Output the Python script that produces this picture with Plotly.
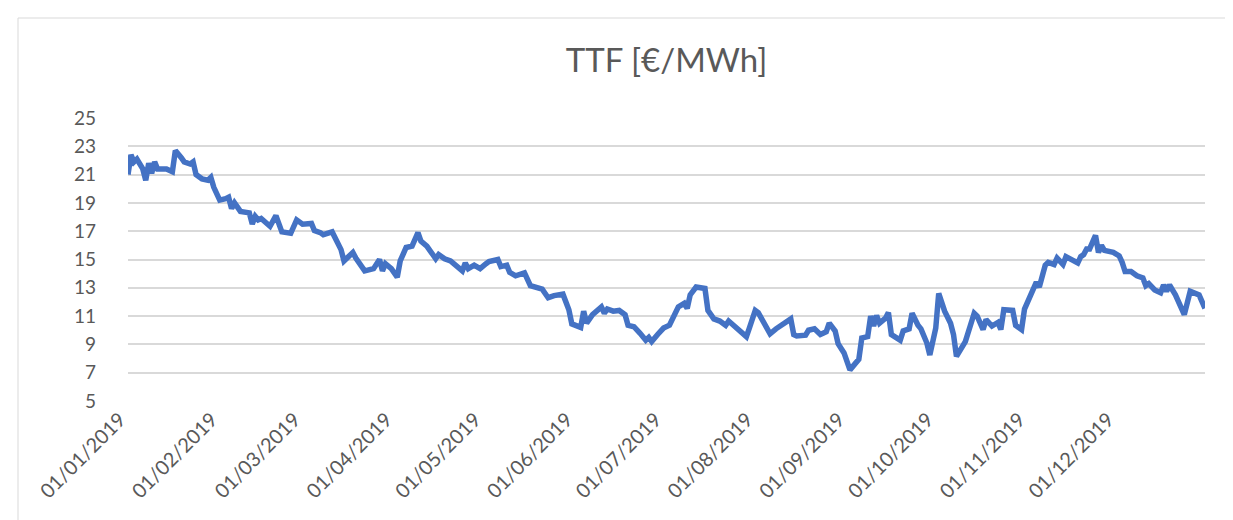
import plotly.graph_objects as go

dates = [
    "2019-01-01", "2019-01-02", "2019-01-03", "2019-01-04", "2019-01-06", "2019-01-07", "2019-01-08",
    "2019-01-09", "2019-01-10", "2019-01-11", "2019-01-13", "2019-01-14", "2019-01-16", "2019-01-17",
    "2019-01-19", "2019-01-20", "2019-01-22", "2019-01-23", "2019-01-24", "2019-01-26", "2019-01-28",
    "2019-01-29", "2019-01-30", "2019-02-01", "2019-02-03", "2019-02-04", "2019-02-05", "2019-02-06",
    "2019-02-08", "2019-02-10", "2019-02-11", "2019-02-12", "2019-02-13", "2019-02-14", "2019-02-15",
    "2019-02-18", "2019-02-20", "2019-02-22", "2019-02-25", "2019-02-27", "2019-03-01", "2019-03-04",
    "2019-03-05", "2019-03-07", "2019-03-08", "2019-03-11", "2019-03-12", "2019-03-14", "2019-03-15",
    "2019-03-16", "2019-03-18", "2019-03-19", "2019-03-21", "2019-03-22", "2019-03-25", "2019-03-27",
    "2019-03-28", "2019-03-29", "2019-03-31", "2019-04-02", "2019-04-03", "2019-04-05", "2019-04-07",
    "2019-04-09", "2019-04-10", "2019-04-12", "2019-04-14", "2019-04-15", "2019-04-16", "2019-04-18",
    "2019-04-20", "2019-04-22", "2019-04-24", "2019-04-25", "2019-04-26", "2019-04-28", "2019-04-30",
    "2019-05-02", "2019-05-03", "2019-05-06", "2019-05-07", "2019-05-09", "2019-05-10", "2019-05-12",
    "2019-05-15", "2019-05-17", "2019-05-19", "2019-05-21", "2019-05-22", "2019-05-23", "2019-05-25",
    "2019-05-28", "2019-05-30", "2019-05-31", "2019-06-03", "2019-06-04", "2019-06-05", "2019-06-07",
    "2019-06-10", "2019-06-11", "2019-06-12", "2019-06-14", "2019-06-16", "2019-06-18", "2019-06-19",
    "2019-06-21", "2019-06-23", "2019-06-25", "2019-06-26", "2019-06-27", "2019-06-29", "2019-07-01",
    "2019-07-03", "2019-07-05", "2019-07-06", "2019-07-08", "2019-07-09", "2019-07-10", "2019-07-12",
    "2019-07-15", "2019-07-16", "2019-07-17", "2019-07-18", "2019-07-20", "2019-07-22", "2019-07-23",
    "2019-07-25", "2019-07-27", "2019-07-29", "2019-07-30", "2019-08-01", "2019-08-02", "2019-08-04",
    "2019-08-06", "2019-08-08", "2019-08-10", "2019-08-13", "2019-08-14", "2019-08-15", "2019-08-18",
    "2019-08-19", "2019-08-21", "2019-08-23", "2019-08-25", "2019-08-26", "2019-08-28", "2019-08-29",
    "2019-08-31", "2019-09-02", "2019-09-05", "2019-09-06", "2019-09-08", "2019-09-09", "2019-09-10",
    "2019-09-11", "2019-09-12", "2019-09-14", "2019-09-15", "2019-09-16", "2019-09-19", "2019-09-20",
    "2019-09-22", "2019-09-23", "2019-09-25", "2019-09-26", "2019-09-28", "2019-09-29", "2019-10-01",
    "2019-10-02", "2019-10-04", "2019-10-06", "2019-10-07", "2019-10-08", "2019-10-11", "2019-10-14",
    "2019-10-15", "2019-10-17", "2019-10-18", "2019-10-20", "2019-10-22", "2019-10-23", "2019-10-24",
    "2019-10-27", "2019-10-28", "2019-10-30", "2019-10-31", "2019-11-03", "2019-11-04", "2019-11-05",
    "2019-11-07", "2019-11-08", "2019-11-10", "2019-11-11", "2019-11-13", "2019-11-14", "2019-11-16",
    "2019-11-18", "2019-11-19", "2019-11-20", "2019-11-21", "2019-11-22", "2019-11-24", "2019-11-25",
    "2019-11-26", "2019-11-27", "2019-11-30", "2019-12-02", "2019-12-03", "2019-12-04", "2019-12-06",
    "2019-12-08", "2019-12-10", "2019-12-11", "2019-12-12", "2019-12-14", "2019-12-16", "2019-12-17",
    "2019-12-18", "2019-12-19", "2019-12-21", "2019-12-23", "2019-12-24", "2019-12-26", "2019-12-29",
    "2019-12-31",
]

ttf_prices = [
    21.0, 22.4, 21.9, 22.1, 21.4, 20.6, 21.8,
    21.1, 21.9, 21.4, 21.4, 21.4, 21.2, 22.7,
    22.2, 21.9, 21.75, 21.9, 21.0, 20.7, 20.6,
    20.8, 20.1, 19.2, 19.3, 19.4, 18.6, 19.0,
    18.4, 18.3, 18.3, 17.5, 18.05, 17.8, 17.9,
    17.35, 18.1, 16.95, 16.85, 17.8, 17.5, 17.55,
    17.05, 16.9, 16.75, 16.95, 16.5, 15.7, 14.9,
    15.15, 15.5, 15.1, 14.6, 14.2, 14.35, 15.0,
    14.2, 14.7, 14.35, 13.75, 14.9, 15.85, 15.95,
    16.9, 16.3, 15.95, 15.35, 15.05, 15.35, 15.05,
    14.9, 14.6, 14.2, 14.75, 14.35, 14.6, 14.35,
    14.7, 14.85, 15.0, 14.5, 14.6, 14.1, 13.85,
    14.05, 13.15, 13.0, 12.9, 12.6, 12.3, 12.45,
    12.55, 11.45, 10.45, 10.2, 11.35, 10.5, 11.1,
    11.65, 11.2, 11.5, 11.35, 11.4, 11.1, 10.35,
    10.25, 9.8, 9.3, 9.5, 9.2, 9.7, 10.15,
    10.35, 11.2, 11.65, 11.9, 11.55, 12.5, 13.05,
    12.95, 11.4, 11.1, 10.8, 10.65, 10.35, 10.65,
    10.3, 9.85, 9.55, 10.15, 11.4, 11.25, 10.4,
    9.75, 10.1, 10.35, 10.8, 9.7, 9.6, 9.65,
    10.0, 10.1, 9.7, 9.9, 10.5, 9.95, 9.05,
    8.4, 7.2, 7.95, 9.45, 9.55, 11.0, 10.3,
    11.05, 10.5, 10.85, 11.25, 9.7, 9.3, 9.95,
    10.1, 11.2, 10.35, 10.1, 9.1, 8.25, 10.15,
    12.6, 11.35, 10.5, 9.7, 8.15, 9.2, 11.2,
    11.0, 10.05, 10.75, 10.3, 10.55, 10.05, 11.45,
    11.4, 10.35, 10.05, 11.5, 12.9, 13.4, 13.05,
    14.6, 14.8, 14.65, 15.1, 14.65, 15.2, 15.0,
    14.75, 15.2, 15.35, 15.75, 15.75, 16.7, 15.5,
    16.0, 15.65, 15.5, 15.25, 14.8, 14.15, 14.15,
    13.85, 13.7, 13.15, 13.3, 12.85, 12.65, 13.2,
    12.75, 13.2, 12.5, 11.4, 11.1, 12.75, 12.5,
    11.55,
]

month_ticks = [
    "2019-01-01", "2019-02-01", "2019-03-01", "2019-04-01", "2019-05-01", "2019-06-01",
    "2019-07-01", "2019-08-01", "2019-09-01", "2019-10-01", "2019-11-01", "2019-12-01",
]
month_labels = [
    "01/01/2019", "01/02/2019", "01/03/2019", "01/04/2019", "01/05/2019", "01/06/2019",
    "01/07/2019", "01/08/2019", "01/09/2019", "01/10/2019", "01/11/2019", "01/12/2019",
]
y_ticks = [5, 7, 9, 11, 13, 15, 17, 19, 21, 23, 25]

title_text = "TTF [€/MWh]"

font_family = "Lato, 'Open Sans', sans-serif"
text_color = "#595959"
grid_color = "#d9d9d9"

fig = go.Figure()
fig.add_trace(go.Scatter(
    x=dates, y=ttf_prices, mode="lines",
    line=dict(color="#4472C4", width=5.5, shape="linear"),
    showlegend=False, hoverinfo="x+y",
))

fig.update_layout(
    width=1233, height=520,
    paper_bgcolor="white", plot_bgcolor="white",
    margin=dict(l=120, r=36, t=110, b=127),
    title=dict(text=title_text, x=0.5, xref="paper", xanchor="center",
               y=1 - 52 / 520, yref="container", yanchor="middle",
               font=dict(family=font_family, size=33, color=text_color)),
    font=dict(family=font_family, color=text_color, size=19),
    xaxis=dict(
        type="date", range=["2019-01-01", "2019-12-31"],
        tickmode="array", tickvals=month_ticks, ticktext=month_labels,
        tickangle=-45, tickfont=dict(size=20, color=text_color),
        showgrid=False, zeroline=False, showline=False, ticks="",
        ticklabelshift=-8, ticklabelstandoff=2,
    ),
    yaxis=dict(
        range=[5, 25], tickmode="array", tickvals=y_ticks,
        tickfont=dict(size=19, color=text_color),
        showgrid=True, gridcolor=grid_color, gridwidth=1.5,
        zeroline=False, showline=False, ticks="",
        ticklabelstandoff=31,
    ),
    shapes=[dict(
        type="rect", xref="paper", yref="paper",
        x0=(10 - 120) / 1077, x1=(1228 - 120) / 1077,
        y0=(393 - 530) / 283, y1=(393 - 10) / 283,
        line=dict(color="#d9d9d9", width=1), fillcolor="rgba(0,0,0,0)", layer="below",
    )],
)

fig.write_html("out.html")
